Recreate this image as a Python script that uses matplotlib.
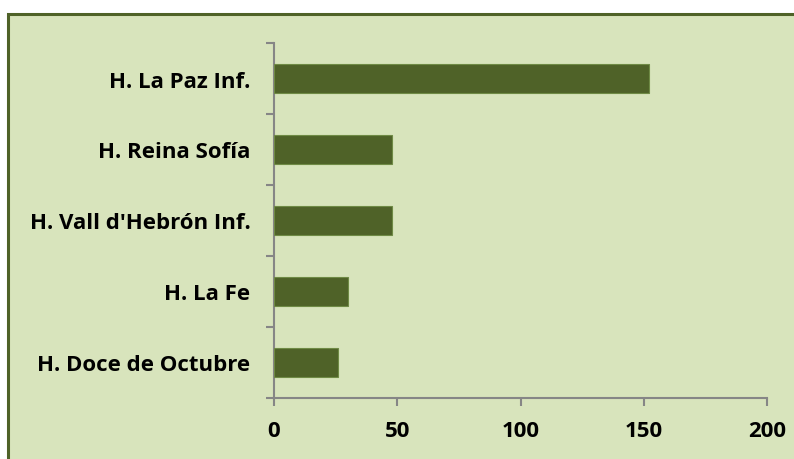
import matplotlib
matplotlib.use("Agg")
import matplotlib.pyplot as plt
from matplotlib.patches import Rectangle

categories = ["H. Doce de Octubre", "H. La Fe", "H. Vall d'Hebrón Inf.", "H. Reina Sofía", "H. La Paz Inf."]
values = [26, 30, 48, 48, 152]
xticks = [0, 50, 100, 150, 200]

W, H = 794, 460
fig = plt.figure(figsize=(W/100, H/100), dpi=100)
fig.patch.set_facecolor("white")

bg = "#d8e4bc"
fig.patches.append(Rectangle((8/W, 0 - 0.05), 1.0, 1 - 15/H + 0.05, transform=fig.transFigure,
                             facecolor=bg, edgecolor="#4f6228", linewidth=2.2, zorder=-10))

ax = fig.add_axes([274/W, 1 - 399/H, (767 - 274)/W, (399 - 44)/H])
ax.set_facecolor("none")
ax.set_zorder(5)
ypos = list(range(len(categories)))
ax.barh(ypos, values, height=0.4, color="#4f6228", edgecolor="#6f8a45", linewidth=0.8, zorder=3)

ax.set_xlim(0, 200)
ax.set_ylim(-0.5, len(categories) - 0.5)
ax.set_xticks(xticks)
ax.set_xticklabels([str(v) for v in xticks])
ax.set_yticks(ypos)
ax.set_yticklabels(categories)
ax.set_yticks([i - 0.5 for i in range(len(categories) + 1)], minor=True)

for s in ["top", "right"]:
    ax.spines[s].set_visible(False)
for s in ["left", "bottom"]:
    ax.spines[s].set_color("#868686")
    ax.spines[s].set_linewidth(1.5)

font = "Open Sans"
ax.tick_params(axis="y", which="major", length=0, pad=17, labelsize=16)
ax.tick_params(axis="y", which="minor", length=6, width=1.5, color="#868686", direction="out")
ax.tick_params(axis="x", length=6, width=1.5, color="#868686", direction="out", pad=10, labelsize=16)
for lab in ax.get_xticklabels() + ax.get_yticklabels():
    lab.set_fontfamily(font)
    lab.set_fontweight("bold")
    lab.set_color("black")

fig.savefig("out.png", dpi=100)
